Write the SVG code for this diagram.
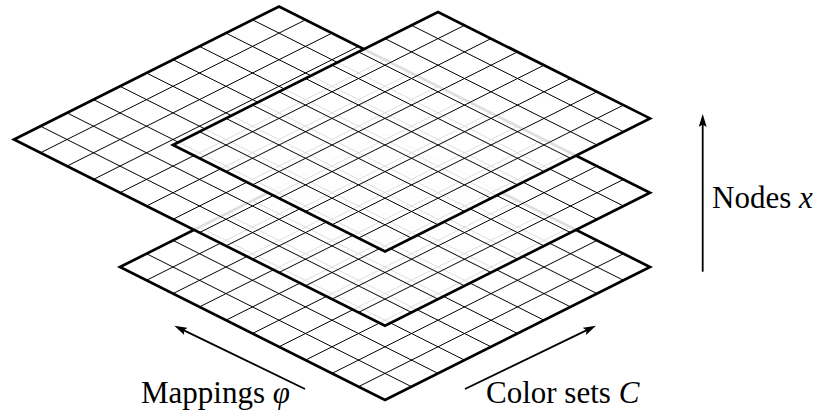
<svg xmlns="http://www.w3.org/2000/svg" width="821" height="413" viewBox="0 0 821 413">
<style>
.base{fill:#fff;stroke:none}
.veil{fill:#fff;fill-opacity:0.87;stroke:none}
.grid{fill:none;stroke:#000;stroke-width:1;vector-effect:non-scaling-stroke}
.edge{fill:none;stroke:#000;stroke-width:2.7;vector-effect:non-scaling-stroke}
.arrow{fill:none;stroke:#000;stroke-width:1.8;marker-end:url(#ah)}
text{font-family:"Liberation Serif","DejaVu Serif",serif;font-size:31px;fill:#000}
.m{font-style:italic}
</style>
<defs>
<marker id="ah" viewBox="0 0 13 8" markerWidth="13" markerHeight="8" refX="8" refY="4" orient="auto" markerUnits="userSpaceOnUse">
<path d="M0,0 L13,4 L0,8 L2.5,4 Z" fill="#000"/>
</marker>
</defs>
<rect width="821" height="413" fill="#fff"/>
<g id="layer-bottom" transform="matrix(26.5,-13.3,26.5,13.3,120,267)">
<path class="base" d="M0 0H10V10H0Z"/>
<path class="grid" d="M0 1H10M0 2H10M0 3H10M0 4H10M0 5H10M0 6H10M0 7H10M0 8H10M0 9H10M1 0V10M2 0V10M3 0V10M4 0V10M5 0V10M6 0V10M7 0V10M8 0V10M9 0V10"/>
<path class="edge" d="M0 0H10V10H0Z"/>
</g>
<g id="layer-middle" transform="matrix(26.5,-13.3,26.5,13.3,14,139.5)">
<path class="veil" d="M0 0H10V14H0Z"/>
<path class="grid" d="M0 1H10M0 2H10M0 3H10M0 4H10M0 5H10M0 6H10M0 7H10M0 8H10M0 9H10M0 10H10M0 11H10M0 12H10M0 13H10M1 0V14M2 0V14M3 0V14M4 0V14M5 0V14M6 0V14M7 0V14M8 0V14M9 0V14"/>
<path class="edge" d="M0 0H10V14H0Z"/>
</g>
<g id="layer-top" transform="matrix(26.5,-13.3,26.5,13.3,173,145)">
<path class="veil" d="M0 0H10V8H0Z"/>
<path class="grid" d="M0 1H10M0 2H10M0 3H10M0 4H10M0 5H10M0 6H10M0 7H10M1 0V8M2 0V8M3 0V8M4 0V8M5 0V8M6 0V8M7 0V8M8 0V8M9 0V8"/>
<path class="edge" d="M0 0H10V8H0Z"/>
</g>
<g id="connectors">
<line class="arrow" x1="702.7" y1="271.7" x2="702.7" y2="119"/>
<line class="arrow" x1="305" y1="389" x2="178.8" y2="327.9"/>
<line class="arrow" x1="465" y1="389" x2="591.5" y2="327.9"/>
</g>
<g id="labels">
<text x="712" y="208">Nodes <tspan class="m">x</tspan></text>
<text x="141" y="403">Mappings <tspan class="m">φ</tspan></text>
<text x="486" y="403">Color sets <tspan class="m">C</tspan></text>
</g>
</svg>
